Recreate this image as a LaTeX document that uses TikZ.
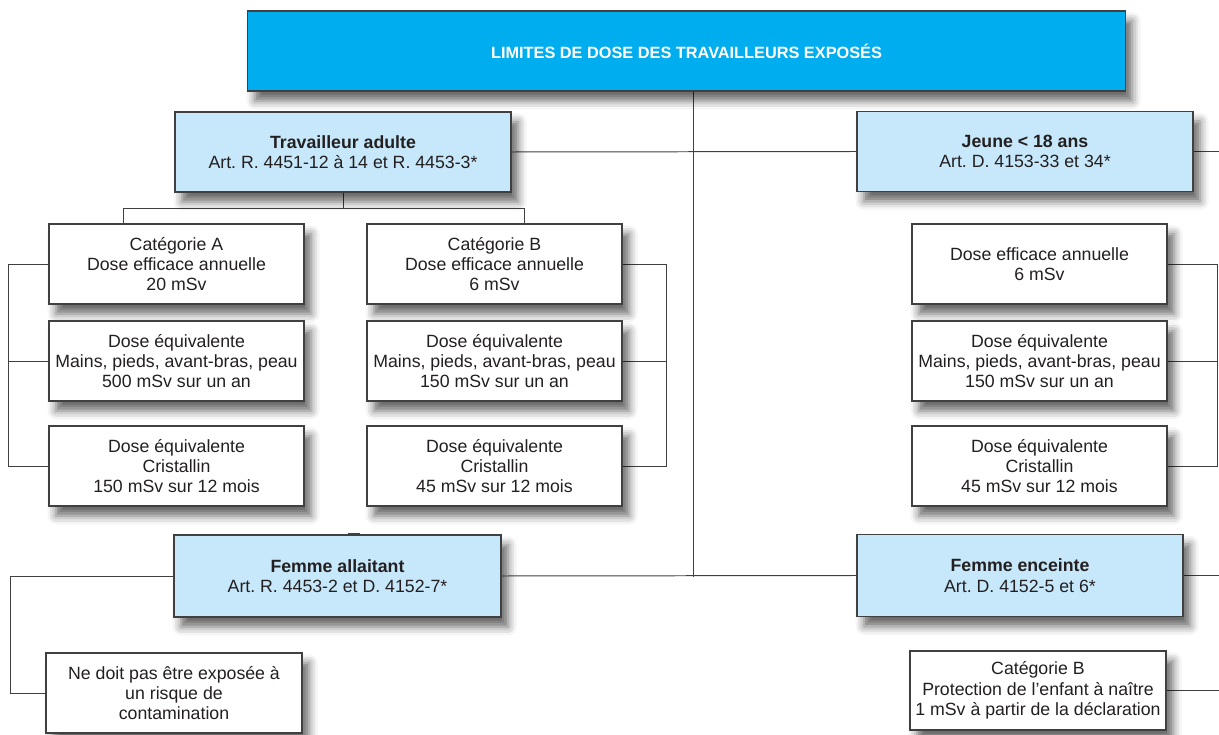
\documentclass[tikz,border=0pt]{standalone}
\usepackage{fontspec}
\setmainfont{Liberation Sans}
\usetikzlibrary{shadows.blur,backgrounds}
\definecolor{inrsblue}{RGB}{0,174,239}
\definecolor{paleblue}{RGB}{199,232,250}
\definecolor{inkgray}{RGB}{35,31,32}
\definecolor{rulegray}{RGB}{64,64,64}
\frenchspacing

\begin{document}
\begin{tikzpicture}[x=0.025cm,y=-0.025cm,
  doseframe/.style={draw=rulegray,line width=0.8pt,fill=white,text=inkgray,align=center,
    minimum width=6.375cm,minimum height=2cm,inner sep=0pt,
    font=\fontsize{12.6}{14.5}\selectfont,
    blur shadow={shadow xshift=5pt,shadow yshift=-7pt,shadow blur radius=6pt,shadow opacity=60}},
  groupframe/.style={doseframe,fill=paleblue,minimum width=8.4cm},
  wire/.style={draw=rulegray,line width=0.7pt}]
  \useasboundingbox (0,0) rectangle (1219,735);

  % top of the tree
  \node[groupframe,minimum width=21.925cm,fill=inrsblue,text=white,
    font=\fontsize{11.6}{13}\selectfont\bfseries] (title) at (686.5,51) {LIMITES DE DOSE DES TRAVAILLEURS EXPOSÉS};
  \node[groupframe] (adult) at (343,152) {\textbf{Travailleur adulte}\\Art. R. 4451-12 à 14 et R. 4453-3*};
  \node[groupframe] (jeune) at (1025,151.5) {\textbf{Jeune < 18 ans}\\Art. D. 4153-33 et 34*};

  % adult worker, categories A and B
  \node[doseframe] (catA) at (176.5,264) {Catégorie A\\Dose efficace annuelle\\20 mSv};
  \node[doseframe] (eqA) at (176.5,361) {Dose équivalente\\Mains, pieds, avant-bras, peau\\500 mSv sur un an};
  \node[doseframe] (crA) at (176.5,466) {Dose équivalente\\Cristallin\\150 mSv sur 12 mois};
  \node[doseframe] (catB) at (494.5,264) {Catégorie B\\Dose efficace annuelle\\6 mSv};
  \node[doseframe] (eqB) at (494.5,361) {Dose équivalente\\Mains, pieds, avant-bras, peau\\150 mSv sur un an};
  \node[doseframe] (crB) at (494.5,466) {Dose équivalente\\Cristallin\\45 mSv sur 12 mois};

  % young worker
  \node[doseframe] (jEff) at (1039.5,264) {Dose efficace annuelle\\6 mSv};
  \node[doseframe] (jEq) at (1039.5,361) {Dose équivalente\\Mains, pieds, avant-bras, peau\\150 mSv sur un an};
  \node[doseframe] (jCr) at (1039.5,466) {Dose équivalente\\Cristallin\\45 mSv sur 12 mois};

  % women
  \node[groupframe,minimum width=8.175cm,minimum height=2.05cm] (allait) at (337.5,576) {\textbf{Femme allaitant}\\Art. R. 4453-2 et D. 4152-7*};
  \node[groupframe,minimum width=8.15cm,minimum height=2.05cm] (enceinte) at (1020,575.5) {\textbf{Femme enceinte}\\Art. D. 4152-5 et 6*};
  \node[doseframe,minimum width=6.4cm] (nedoit) at (174,693) {Ne doit pas être exposée à\\un risque de\\contamination};
  \node[doseframe,minimum width=6.4cm,minimum height=1.975cm] (enfant) at (1038,690.5) {Catégorie B\\Protection de l'enfant à naître\\1 mSv à partir de la déclaration};

  \coordinate (hub) at (693,577);
  \coordinate (busA) at (123,208);
  \coordinate (busB) at (524,208);
  \coordinate (railA) at (8,0);
  \coordinate (railB) at (666,0);
  \coordinate (railJ) at (1217,0);
  \coordinate (railF) at (10,0);
  \coordinate (edge) at (1219,0);

  \begin{scope}[on background layer]
    \draw[wire] (title.south -| hub) -- (hub);
    \draw[wire] (adult.east) -- (jeune.west);
    \draw[wire] (jeune.east) -- (jeune.east -| edge);
    \draw[wire] (allait.east) -- (enceinte.west);
    \draw[wire] (enceinte.east) -- (enceinte.east -| edge);
    \draw[wire] (enfant.east) -- (enfant.east -| edge);
    \draw[wire] (allait.west) -- (allait.west -| railF) |- (nedoit.west);
    % adult tree
    \draw[wire] (adult.south) -- (adult.south |- busA);
    \draw[wire] (busA |- catA.north) -- (busA) -- (busB) -- (busB |- catB.north);
    % brackets
    \draw[wire] (catA.west) -- (catA.west -| railA) |- (crA.west);
    \draw[wire] (eqA.west) -- (eqA.west -| railA);
    \draw[wire] (catB.east) -- (catB.east -| railB) |- (crB.east);
    \draw[wire] (eqB.east) -- (eqB.east -| railB);
    \draw[wire] (jEff.east) -- (jEff.east -| railJ) |- (jCr.east);
    \draw[wire] (jEq.east) -- (jEq.east -| railJ);
  \end{scope}
  \draw[rulegray,line width=1.8pt] ([xshift=0.25cm]allait.north) -- ++(12,0);
\end{tikzpicture}
\end{document}
